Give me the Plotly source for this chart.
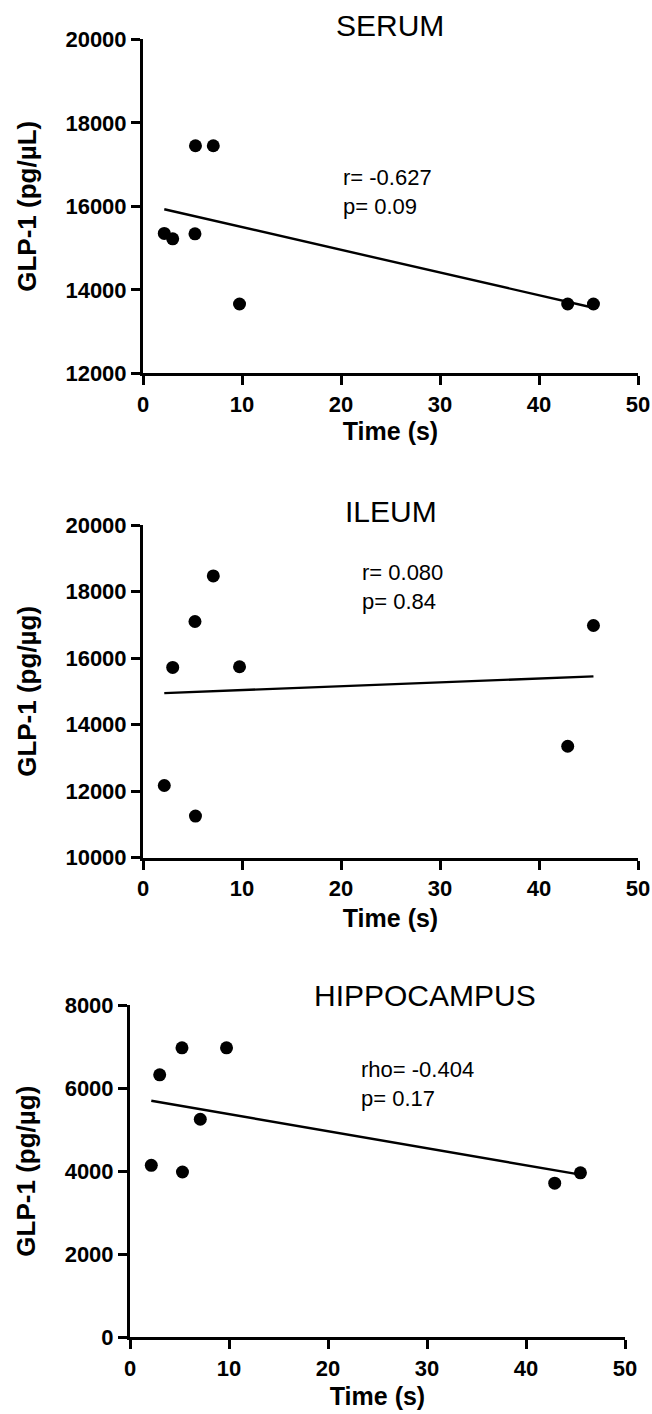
import numpy as np
import plotly.graph_objects as go

# ---------------- data ----------------
time_s = [2.15, 3.0, 5.25, 5.3, 7.1, 9.75, 42.9, 45.5]
serum_glp1 = [15350, 15220, 15340, 17450, 17450, 13660, 13660, 13660]
ileum_glp1 = [12170, 15720, 17100, 11250, 18470, 15740, 13350, 16980]
hippo_glp1 = [4140, 6320, 6970, 3980, 5250, 6970, 3710, 3960]

panel_titles = ["SERUM", "ILEUM", "HIPPOCAMPUS"]
y_titles = ["GLP-1 (pg/µL)", "GLP-1 (pg/µg)", "GLP-1 (pg/µg)"]
stat_texts = ["r= -0.627<br>p= 0.09", "r= 0.080<br>p= 0.84", "rho= -0.404<br>p= 0.17"]
y_ranges = [[12000, 20000], [10000, 20000], [0, 8000]]
y_ticks = [[12000, 14000, 16000, 18000, 20000],
           [10000, 12000, 14000, 16000, 18000, 20000],
           [0, 2000, 4000, 6000, 8000]]
x_ticks = [0, 10, 20, 30, 40, 50]

# ---------------- layout geometry (window pixels) ----------------
W, H = 652, 1414


def px_x(p):
    return p / W


def px_y(p):
    return 1 - p / H


plot_px = [  # (left, right, top, bottom)
    (143, 638, 39.3, 373.3),
    (143, 638, 525, 857.7),
    (130, 625, 1005, 1337.3),
]
title_px = [(390, 26), (391, 511), (425, 995)]
stat_px = [(341, 192), (360, 587), (359, 1084)]
xtitle_standoff = [1, 10, 8]

FONT = "Arial, Liberation Sans, Helvetica, sans-serif"

fig = go.Figure()
series = [serum_glp1, ileum_glp1, hippo_glp1]

for i, yvals in enumerate(series):
    suffix = "" if i == 0 else str(i + 1)
    xa, ya = "x" + suffix, "y" + suffix
    fig.add_trace(go.Scatter(
        x=time_s, y=yvals, mode="markers", xaxis=xa, yaxis=ya,
        marker=dict(size=13, color="black"), showlegend=False))
    slope, intercept = np.polyfit(time_s, yvals, 1)
    xf = [min(time_s), max(time_s)]
    yf = [slope * v + intercept for v in xf]
    fig.add_trace(go.Scatter(
        x=xf, y=yf, mode="lines", xaxis=xa, yaxis=ya,
        line=dict(color="black", width=2.4), showlegend=False))

    l, r, t, b = plot_px[i]
    axis_common = dict(
        showline=True, linecolor="black", linewidth=3,
        ticks="outside", ticklen=9, tickwidth=3, tickcolor="black",
        showgrid=False, zeroline=False, tickformat="d",
        tickfont=dict(family=FONT, size=22, color="black", weight="bold"),
    )
    fig.layout["xaxis" + suffix] = dict(
        axis_common, domain=[px_x(l), px_x(r)], range=[0, 50],
        tickvals=x_ticks, anchor=ya, ticklabeloverflow="allow",
        title=dict(text="Time (s)", standoff=xtitle_standoff[i],
                   font=dict(family=FONT, size=25, color="black", weight="bold")),
    )
    fig.layout["yaxis" + suffix] = dict(
        axis_common, domain=[px_y(b), px_y(t)], range=y_ranges[i],
        tickvals=y_ticks[i], anchor=xa,
        title=dict(text=y_titles[i], standoff=22,
                   font=dict(family=FONT, size=26, color="black", weight="bold")),
    )

    tx, ty = title_px[i]
    fig.add_annotation(
        text=panel_titles[i], xref="paper", yref="paper",
        x=px_x(tx), y=px_y(ty), xanchor="center", yanchor="middle",
        showarrow=False, font=dict(family=FONT, size=30, color="black"))
    sx, sy = stat_px[i]
    fig.add_annotation(
        text=stat_texts[i], xref="paper", yref="paper",
        x=px_x(sx), y=px_y(sy), xanchor="left", yanchor="middle", align="left",
        showarrow=False, font=dict(family=FONT, size=22, color="black"))

fig.update_layout(
    width=W, height=H,
    margin=dict(l=0, r=0, t=0, b=0, autoexpand=False),
    paper_bgcolor="white", plot_bgcolor="white",
    showlegend=False,
)

fig.write_html(
    "out.html",
    config={"displayModeBar": False},
    post_script="document.body.style.margin='0';document.body.style.overflow='hidden';",
)
